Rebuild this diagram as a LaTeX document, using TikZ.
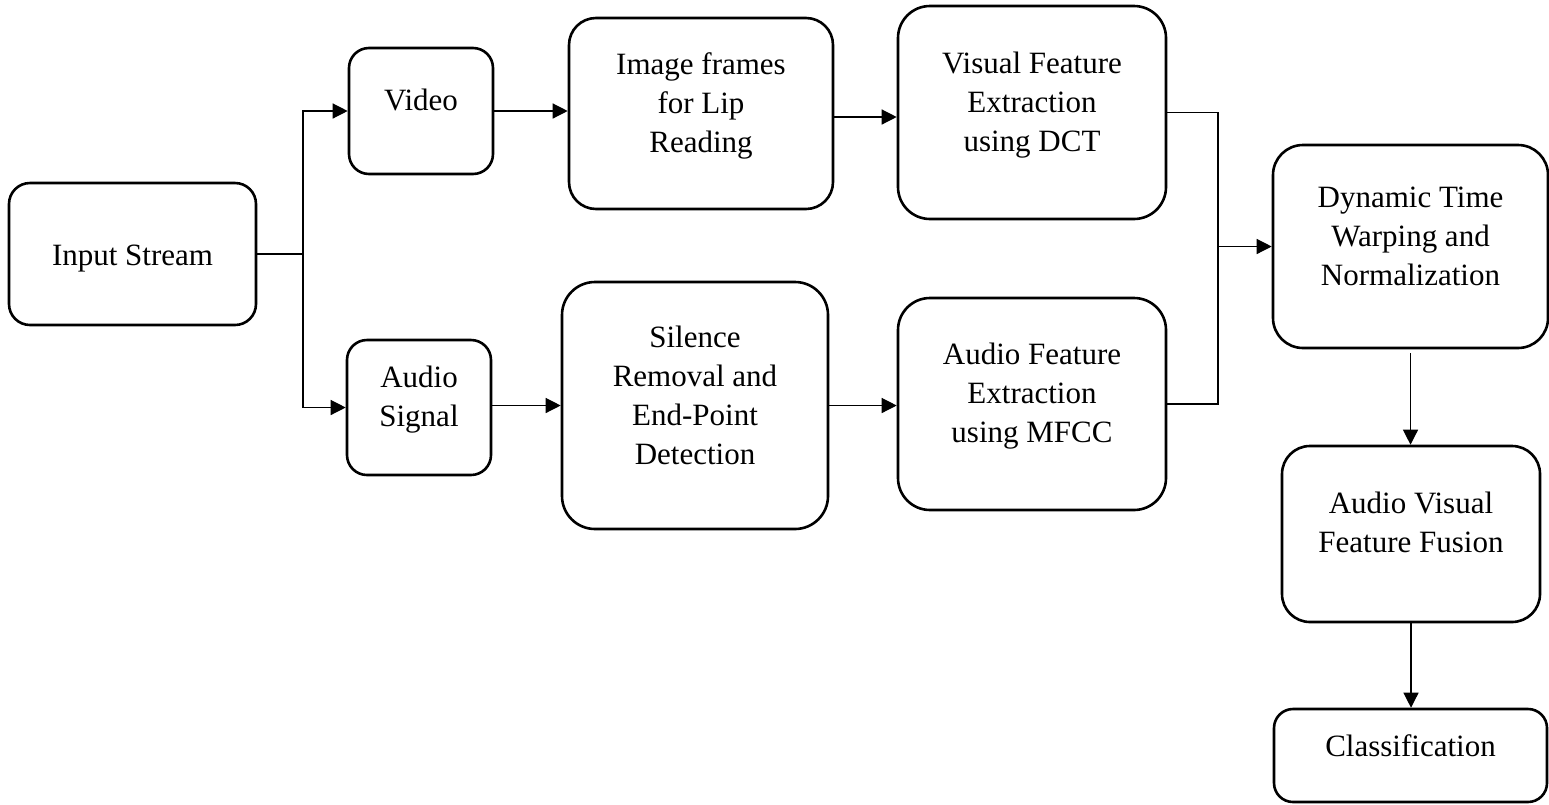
\documentclass[tikz,border=0pt]{standalone}
\usepackage{fontspec}
\setmainfont{Liberation Serif}
\usetikzlibrary{arrows.meta}
\begin{document}
\begin{tikzpicture}[x=1pt,y=-1pt,
  blk/.style={draw, line width=2.6pt, rounded corners=#1, inner sep=0pt},
  blk/.default=25pt,
  txt/.style={anchor=north, inner sep=0pt, align=center,
    font=\fontsize{31}{39}\selectfont},
  conn/.style={line width=1.3pt},
  arr/.style={conn, -{Triangle[length=15pt,width=15pt]}}]
\useasboundingbox (0,0) rectangle (1549,804);

% boxes
\node[blk=21pt, minimum width=247pt, minimum height=142pt] (inp) at (132.5,254) {};
\node[blk=20pt, minimum width=144pt, minimum height=126pt] (vid) at (421,111) {};
\node[blk=20pt, minimum width=144pt, minimum height=135pt] (aud) at (419,407.5) {};
\node[blk=27pt, minimum width=264pt, minimum height=191pt] (img) at (701,113.5) {};
\node[blk=32pt, minimum width=268pt, minimum height=213pt] (vis) at (1032,112.5) {};
\node[blk=33pt, minimum width=266pt, minimum height=247pt] (sil) at (695,405.5) {};
\node[blk=32pt, minimum width=268pt, minimum height=212pt] (afe) at (1032,404) {};
\node[blk=30pt, minimum width=275pt, minimum height=203pt] (dtw) at (1410.5,246.5) {};
\node[blk=28pt, minimum width=258pt, minimum height=176pt] (fus) at (1411,534) {};
\node[blk=19pt, minimum width=273pt, minimum height=93pt] (cls) at (1410.5,755.5) {};

% labels
\node[txt] (inpT) at (132.5,237.7) {\strut Input Stream};
\node[txt] (vidT) at (421,82.7) {\strut Video};
\node[txt] (audT) at (419,359.7) {\strut Audio\\Signal};
\node[txt] (imgT) at (701,46.7) {\strut Image frames\\for Lip\\Reading};
\node[txt] (visT) at (1032,45.7) {\strut Visual Feature\\Extraction\\using DCT};
\node[txt] (silT) at (695,319.7) {\strut Silence\\Removal and\\End-Point\\Detection};
\node[txt] (afeT) at (1032,336.7) {\strut Audio Feature\\Extraction\\using MFCC};
\node[txt] (dtwT) at (1410.5,179.7) {\strut Dynamic Time\\Warping and\\Normalization};
\node[txt] (fusT) at (1411,485.7) {\strut Audio Visual\\Feature Fusion};
\node[txt] (clsT) at (1410.5,728.7) {\strut Classification};

% split of the input stream
\coordinate (split) at (303,254);
\draw[conn] (inp.east) -- (split);
\draw[arr] (split) |- (vid.west);
\draw[arr] (split) |- (aud.west);

% video and audio chains
\draw[arr] (vid.east) -- (vid.east -| img.west);
\draw[arr] ([yshift=-3.5pt]img.east) -- ([yshift=-3.5pt]img.east -| vis.west);
\draw[arr] (aud.east |- sil.west) -- (sil.west);
\draw[arr] (sil.east) -- (sil.east -| afe.west);

% merge of both feature streams
\coordinate (jt) at (1218,112.5);
\coordinate (jb) at (1218,404);
\draw[conn] (vis.east) -- (jt) -- (jb) -- (afe.east);
\draw[arr] (jt |- dtw.west) -- (dtw.west);

% final stages
\draw[arr] ([yshift=-4pt]dtw.south) -- (dtw.south |- fus.north);
\draw[arr] (fus.south) -- (fus.south |- cls.north);
\end{tikzpicture}
\end{document}
